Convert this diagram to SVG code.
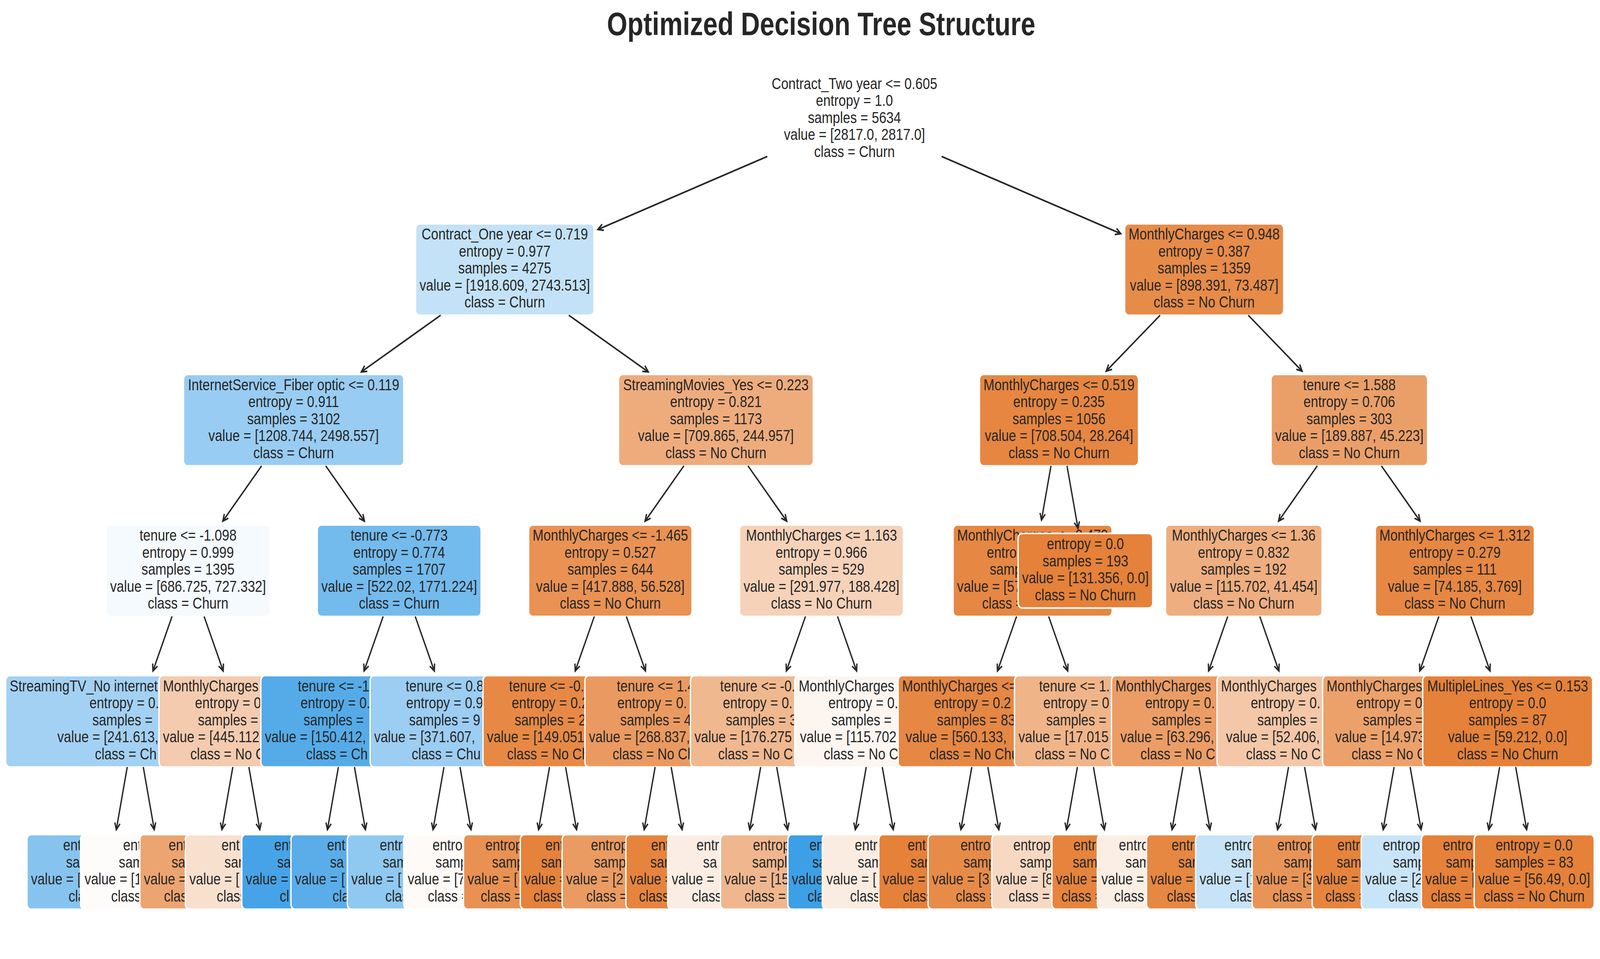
<svg xmlns="http://www.w3.org/2000/svg" width="5033" height="2455" viewBox="0 0 5033 2455" preserveAspectRatio="none" style="width:100vw;height:100vh;display:block">
<defs>
<style>
text { font-family: "Liberation Sans", Arial, Helvetica, sans-serif; font-size: 41.3px; fill: #262626; }
.c { text-anchor: middle; }
.title { font-size: 82.5px; font-weight: bold; text-anchor: middle; }
rect { stroke: #ffffff; stroke-width: 4.2; }
.edges path { stroke: #262626; stroke-width: 4.2; fill: none; marker-end: url(#ah); }
</style>
<marker id="ah" markerUnits="userSpaceOnUse" viewBox="-22 -12 26 24" markerWidth="26" markerHeight="24" refX="0" refY="0" orient="auto" overflow="visible">
<path d="M -17,-8.3 L 0,0 L -17,8.3" fill="none" stroke="#262626" stroke-width="4.2"/>
</marker>
</defs>
<rect x="0" y="0" width="5033" height="2455" fill="#ffffff" stroke="none"/>
<text class="title" x="2583" y="90">Optimized Decision Tree Structure</text>

<!-- depth 5 -->
<g id="leaf-0"><rect x="84.9" y="2136.5" width="515.2" height="191" rx="12.5" fill="#86c3ef"/><text x="198.4" y="2177.2">ent</text><text x="207.6" y="2220.7">sa</text><text x="97.4" y="2264.2">value = [</text><text x="215.7" y="2307.7">cla</text></g>
<g id="leaf-1"><rect x="253.5" y="2136.5" width="510.2" height="191" rx="12.5" fill="#fefcfa"/><text x="387.5" y="2177.2">ent</text><text x="373.7" y="2220.7">sam</text><text x="266" y="2264.2">value = [1</text><text x="349.7" y="2307.7">class</text></g>
<g id="leaf-2"><rect x="439.9" y="2136.5" width="469.4" height="191" rx="12.5" fill="#eca470"/><text x="530.5" y="2177.2">ent</text><text x="539.7" y="2220.7">sa</text><text x="452.4" y="2264.2">value =</text><text x="515.7" y="2307.7">clas</text></g>
<g id="leaf-3"><rect x="583.1" y="2136.5" width="515.2" height="191" rx="12.5" fill="#f8e0cf"/><text x="696.6" y="2177.2">ent</text><text x="705.8" y="2220.7">sam</text><text x="595.6" y="2264.2">value = [</text><text x="681.8" y="2307.7">class</text></g>
<g id="leaf-4"><rect x="760.5" y="2136.5" width="492.4" height="191" rx="12.5" fill="#46a3e7"/><text x="862.6" y="2177.2">ent</text><text x="871.8" y="2220.7">sa</text><text x="773" y="2264.2">value =</text><text x="879.9" y="2307.7">cl</text></g>
<g id="leaf-5"><rect x="915.2" y="2136.5" width="515.2" height="191" rx="12.5" fill="#5aade9"/><text x="1028.7" y="2177.2">ent</text><text x="1037.9" y="2220.7">sa</text><text x="927.7" y="2264.2">value = [</text><text x="1046" y="2307.7">cla</text></g>
<g id="leaf-6"><rect x="1092.6" y="2136.5" width="492.4" height="191" rx="12.5" fill="#8fc8f0"/><text x="1194.7" y="2177.2">entr</text><text x="1203.9" y="2220.7">sam</text><text x="1105.1" y="2264.2">value = [</text><text x="1212" y="2307.7">clas</text></g>
<g id="leaf-7"><rect x="1270.1" y="2136.5" width="469.4" height="191" rx="12.5" fill="#fefaf7"/><text x="1360.7" y="2177.2">entro</text><text x="1369.9" y="2220.7">samp</text><text x="1282.6" y="2264.2">value = [7</text><text x="1345.9" y="2307.7">class =</text></g>
<g id="leaf-8"><rect x="1458" y="2136.5" width="425.8" height="191" rx="12.5" fill="#e89152"/><text x="1526.8" y="2177.2">entrop</text><text x="1547.5" y="2220.7">samp</text><text x="1470.5" y="2264.2">value = [</text><text x="1512" y="2307.7">class =</text></g>
<g id="leaf-9"><rect x="1636.7" y="2136.5" width="400.4" height="191" rx="12.5" fill="#e5823b"/><text x="1715.8" y="2177.2">ent</text><text x="1702" y="2220.7">sam</text><text x="1649.2" y="2264.2">value =</text><text x="1678" y="2307.7">class</text></g>
<g id="leaf-10"><rect x="1768.2" y="2136.5" width="469.4" height="191" rx="12.5" fill="#ea9b62"/><text x="1858.8" y="2177.2">entrop</text><text x="1868" y="2220.7">samp</text><text x="1780.7" y="2264.2">value = [2</text><text x="1844" y="2307.7">class =</text></g>
<g id="leaf-11"><rect x="1968.8" y="2136.5" width="400.4" height="191" rx="12.5" fill="#e6843e"/><text x="2047.9" y="2177.2">ent</text><text x="2045.6" y="2220.7">sam</text><text x="1981.3" y="2264.2">value =</text><text x="2010.1" y="2307.7">class</text></g>
<g id="leaf-12"><rect x="2100.3" y="2136.5" width="469.4" height="191" rx="12.5" fill="#fbede3"/><text x="2190.9" y="2177.2">entr</text><text x="2211.6" y="2220.7">sa</text><text x="2112.8" y="2264.2">value =</text><text x="2176.1" y="2307.7">class</text></g>
<g id="leaf-13"><rect x="2266.3" y="2136.5" width="469.4" height="191" rx="12.5" fill="#f0b78e"/><text x="2368.4" y="2177.2">entrop</text><text x="2366.1" y="2220.7">sampl</text><text x="2278.8" y="2264.2">value = [15</text><text x="2342.1" y="2307.7">class =</text></g>
<g id="leaf-14"><rect x="2478.3" y="2136.5" width="377.4" height="191" rx="12.5" fill="#3d9fe5"/><text x="2545.9" y="2177.2">en</text><text x="2555.1" y="2220.7">sa</text><text x="2490.8" y="2264.2">value</text><text x="2540.2" y="2307.7">cla</text></g>
<g id="leaf-15"><rect x="2586.8" y="2136.5" width="492.4" height="191" rx="12.5" fill="#fbece1"/><text x="2688.9" y="2177.2">entr</text><text x="2698.1" y="2220.7">sam</text><text x="2599.3" y="2264.2">value = [</text><text x="2674.1" y="2307.7">class</text></g>
<g id="leaf-16"><rect x="2764.3" y="2136.5" width="469.4" height="191" rx="12.5" fill="#e58139"/><text x="2854.9" y="2177.2">ent</text><text x="2864.1" y="2220.7">sam</text><text x="2776.8" y="2264.2">value =</text><text x="2840.1" y="2307.7">class</text></g>
<g id="leaf-17"><rect x="2919.3" y="2136.5" width="492.4" height="191" rx="12.5" fill="#e78b48"/><text x="3021.4" y="2177.2">entro</text><text x="3030.6" y="2220.7">samp</text><text x="2931.8" y="2264.2">value = [3</text><text x="3006.6" y="2307.7">class =</text></g>
<g id="leaf-18"><rect x="3119.8" y="2136.5" width="423.4" height="191" rx="12.5" fill="#f7d9c3"/><text x="3187.4" y="2177.2">entrop</text><text x="3208.1" y="2220.7">samp</text><text x="3132.3" y="2264.2">value = [8</text><text x="3172.6" y="2307.7">class =</text></g>
<g id="leaf-19"><rect x="3308.8" y="2136.5" width="377.4" height="191" rx="12.5" fill="#e6843d"/><text x="3376.4" y="2177.2">entr</text><text x="3374.1" y="2220.7">sam</text><text x="3321.3" y="2264.2">value =</text><text x="3338.6" y="2307.7">class =</text></g>
<g id="leaf-20"><rect x="3451.9" y="2136.5" width="423.4" height="191" rx="12.5" fill="#fbeee4"/><text x="3519.5" y="2177.2">entro</text><text x="3540.2" y="2220.7">sam</text><text x="3464.4" y="2264.2">value =</text><text x="3504.7" y="2307.7">class</text></g>
<g id="leaf-21"><rect x="3606.5" y="2136.5" width="446.2" height="191" rx="12.5" fill="#e68742"/><text x="3685.5" y="2177.2">entr</text><text x="3706.2" y="2220.7">sam</text><text x="3619" y="2264.2">value =</text><text x="3670.7" y="2307.7">class</text></g>
<g id="leaf-22"><rect x="3761" y="2136.5" width="469.4" height="191" rx="12.5" fill="#c6e3f7"/><text x="3851.6" y="2177.2">entro</text><text x="3872.3" y="2220.7">sam</text><text x="3773.5" y="2264.2">value = [1</text><text x="3868.9" y="2307.7">clas</text></g>
<g id="leaf-23"><rect x="3938.6" y="2136.5" width="446.2" height="191" rx="12.5" fill="#e99457"/><text x="4017.6" y="2177.2">entrop</text><text x="4038.3" y="2220.7">samp</text><text x="3951.1" y="2264.2">value = [3</text><text x="4002.8" y="2307.7">class =</text></g>
<g id="leaf-24"><rect x="4127.6" y="2136.5" width="400.4" height="191" rx="12.5" fill="#e6843e"/><text x="4206.7" y="2177.2">entr</text><text x="4204.4" y="2220.7">sam</text><text x="4140.1" y="2264.2">value =</text><text x="4168.9" y="2307.7">class =</text></g>
<g id="leaf-25"><rect x="4282.1" y="2136.5" width="423.4" height="191" rx="12.5" fill="#c8e4f8"/><text x="4349.7" y="2177.2">entrop</text><text x="4381.9" y="2220.7">samp</text><text x="4294.6" y="2264.2">value = [2</text><text x="4367" y="2307.7">class</text></g>
<g id="leaf-26"><rect x="4471.1" y="2136.5" width="377.4" height="191" rx="12.5" fill="#e58139"/><text x="4538.7" y="2177.2">entro</text><text x="4547.9" y="2220.7">samp</text><text x="4483.6" y="2264.2">value = [</text><text x="4500.9" y="2307.7">class =</text></g>
<g id="leaf-27"><rect x="4637.2" y="2136.5" width="377.5" height="191" rx="12.5" fill="#e58139"/><text class="c" x="4825.9" y="2177.2">entropy = 0.0</text><text class="c" x="4825.9" y="2220.7">samples = 83</text><text class="c" x="4825.9" y="2264.2">value = [56.49, 0.0]</text><text class="c" x="4825.9" y="2307.7">class = No Churn</text></g>

<!-- depth 4 -->
<g id="d4-0"><rect x="18" y="1729.5" width="815" height="234" rx="12.5" fill="#a3d1f3"/><text x="30.5" y="1769.95">StreamingTV_No internet</text><text x="281.4" y="1813.45">entropy = 0.</text><text x="290.6" y="1856.95">samples =</text><text x="180.4" y="1900.45">value = [241.613,</text><text x="298.7" y="1943.95">class = Ch</text></g>
<g id="d4-1"><rect x="500.1" y="1729.5" width="515" height="234" rx="12.5" fill="#f4cbae"/><text x="512.6" y="1769.95">MonthlyCharges</text><text x="613.5" y="1813.45">entropy = 0</text><text x="622.7" y="1856.95">samples =</text><text x="512.5" y="1900.45">value = [445.112</text><text x="598.7" y="1943.95">class = No C</text></g>
<g id="d4-2"><rect x="820.6" y="1729.5" width="538.2" height="234" rx="12.5" fill="#55abe8"/><text x="937" y="1769.95">tenure &lt;= -1</text><text x="945.6" y="1813.45">entropy = 0.</text><text x="954.8" y="1856.95">samples =</text><text x="833.1" y="1900.45">value = [150.412,</text><text x="962.9" y="1943.95">class = Ch</text></g>
<g id="d4-3"><rect x="1164.2" y="1729.5" width="515.2" height="234" rx="12.5" fill="#9ccdf2"/><text x="1276" y="1769.95">tenure &lt;= 0.8</text><text x="1277.7" y="1813.45">entropy = 0.9</text><text x="1286.9" y="1856.95">samples = 9</text><text x="1176.7" y="1900.45">value = [371.607,</text><text x="1295" y="1943.95">class = Chu</text></g>
<g id="d4-4"><rect x="1519.3" y="1729.5" width="469.2" height="234" rx="12.5" fill="#e78945"/><text x="1601.2" y="1769.95">tenure &lt;= -0.</text><text x="1609.8" y="1813.45">entropy = 0.2</text><text x="1619" y="1856.95">samples = 2</text><text x="1531.8" y="1900.45">value = [149.051</text><text x="1595" y="1943.95">class = No Ch</text></g>
<g id="d4-5"><rect x="1839.9" y="1729.5" width="492.2" height="234" rx="12.5" fill="#ea9a60"/><text x="1940.2" y="1769.95">tenure &lt;= 1.4</text><text x="1941.9" y="1813.45">entropy = 0.</text><text x="1951.1" y="1856.95">samples = 4</text><text x="1852.4" y="1900.45">value = [268.837,</text><text x="1927.1" y="1943.95">class = No Ch</text></g>
<g id="d4-6"><rect x="2171.9" y="1729.5" width="492.2" height="234" rx="12.5" fill="#f0b88f"/><text x="2265.3" y="1769.95">tenure &lt;= -0.</text><text x="2273.9" y="1813.45">entropy = 0.</text><text x="2283.1" y="1856.95">samples = 3</text><text x="2184.4" y="1900.45">value = [176.275</text><text x="2259.1" y="1943.95">class = No C</text></g>
<g id="d4-7"><rect x="2500" y="1729.5" width="500.2" height="234" rx="12.5" fill="#fdf5f0"/><text x="2512.5" y="1769.95">MonthlyCharges</text><text x="2606" y="1813.45">entropy = 0.</text><text x="2615.2" y="1856.95">samples =</text><text x="2516.5" y="1900.45">value = [115.702</text><text x="2591.2" y="1943.95">class = No C</text></g>
<g id="d4-8"><rect x="2825.2" y="1729.5" width="514" height="234" rx="12.5" fill="#e68743"/><text x="2837.7" y="1769.95">MonthlyCharges &lt;=</text><text x="2938.1" y="1813.45">entropy = 0.2</text><text x="2947.3" y="1856.95">samples = 83</text><text x="2848.6" y="1900.45">value = [560.133,</text><text x="2923.3" y="1943.95">class = No Chu</text></g>
<g id="d4-9"><rect x="3191.2" y="1729.5" width="446.2" height="234" rx="12.5" fill="#f0b489"/><text x="3268.5" y="1769.95">tenure &lt;= 1.</text><text x="3281.7" y="1813.45">entropy = 0</text><text x="3290.9" y="1856.95">samples =</text><text x="3203.7" y="1900.45">value = [17.015</text><text x="3255.4" y="1943.95">class = No C</text></g>
<g id="d4-10"><rect x="3496.3" y="1729.5" width="500.2" height="234" rx="12.5" fill="#eb9d65"/><text x="3508.8" y="1769.95">MonthlyCharges</text><text x="3602.3" y="1813.45">entropy = 0.</text><text x="3623" y="1856.95">samples =</text><text x="3524.3" y="1900.45">value = [63.296,</text><text x="3587.5" y="1943.95">class = No C</text></g>
<g id="d4-11"><rect x="3828.4" y="1729.5" width="500.2" height="234" rx="12.5" fill="#f3c7a7"/><text x="3840.9" y="1769.95">MonthlyCharges</text><text x="3934.4" y="1813.45">entropy = 0.</text><text x="3955.1" y="1856.95">samples =</text><text x="3856.4" y="1900.45">value = [52.406,</text><text x="3919.6" y="1943.95">class = No C</text></g>
<g id="d4-12"><rect x="4160.4" y="1729.5" width="500.2" height="234" rx="12.5" fill="#eca16b"/><text x="4172.9" y="1769.95">MonthlyCharges</text><text x="4266.4" y="1813.45">entropy = 0</text><text x="4287.1" y="1856.95">samples =</text><text x="4199.9" y="1900.45">value = [14.973</text><text x="4251.6" y="1943.95">class = No C</text></g>
<g id="d4-13"><rect x="4475.3" y="1729.5" width="534.6" height="234" rx="12.5" fill="#e58139"/><text class="c" x="4742.6" y="1769.95">MultipleLines_Yes &lt;= 0.153</text><text class="c" x="4742.6" y="1813.45">entropy = 0.0</text><text class="c" x="4742.6" y="1856.95">samples = 87</text><text class="c" x="4742.6" y="1900.45">value = [59.212, 0.0]</text><text class="c" x="4742.6" y="1943.95">class = No Churn</text></g>

<!-- depth 3 -->
<g id="d3-0"><rect x="334" y="1344" width="515.2" height="234" rx="12.5" fill="#f4fafe"/><text class="c" x="591.6" y="1384.45">tenure &lt;= -1.098</text><text class="c" x="591.6" y="1427.95">entropy = 0.999</text><text class="c" x="591.6" y="1471.45">samples = 1395</text><text class="c" x="591.6" y="1514.95">value = [686.725, 727.332]</text><text class="c" x="591.6" y="1558.45">class = Churn</text></g>
<g id="d3-1"><rect x="998.1" y="1344" width="515.2" height="234" rx="12.5" fill="#73baed"/><text class="c" x="1255.7" y="1384.45">tenure &lt;= -0.773</text><text class="c" x="1255.7" y="1427.95">entropy = 0.774</text><text class="c" x="1255.7" y="1471.45">samples = 1707</text><text class="c" x="1255.7" y="1514.95">value = [522.02, 1771.224]</text><text class="c" x="1255.7" y="1558.45">class = Churn</text></g>
<g id="d3-2"><rect x="1662.9" y="1344" width="514" height="234" rx="12.5" fill="#e99254"/><text class="c" x="1919.9" y="1384.45">MonthlyCharges &lt;= -1.465</text><text class="c" x="1919.9" y="1427.95">entropy = 0.527</text><text class="c" x="1919.9" y="1471.45">samples = 644</text><text class="c" x="1919.9" y="1514.95">value = [417.888, 56.528]</text><text class="c" x="1919.9" y="1558.45">class = No Churn</text></g>
<g id="d3-3"><rect x="2326.5" y="1344" width="515.2" height="234" rx="12.5" fill="#f6d2b9"/><text class="c" x="2584.1" y="1384.45">MonthlyCharges &lt;= 1.163</text><text class="c" x="2584.1" y="1427.95">entropy = 0.966</text><text class="c" x="2584.1" y="1471.45">samples = 529</text><text class="c" x="2584.1" y="1514.95">value = [291.977, 188.428]</text><text class="c" x="2584.1" y="1558.45">class = No Churn</text></g>
<g id="d3-4"><rect x="2998.1" y="1344" width="500.2" height="234" rx="12.5" fill="#e68743"/><text class="c" x="3248.2" y="1384.45">MonthlyCharges &lt;= 0.479</text><text x="3104.1" y="1427.95">entro</text><text x="3113.3" y="1471.45">samp</text><text x="3010.6" y="1514.95">value = [57</text><text x="3089.3" y="1558.45">class =</text></g>
<g id="d3-5"><rect x="3202.6" y="1365.5" width="423.4" height="191" rx="12.5" fill="#e58139"/><text class="c" x="3414.3" y="1406.2">entropy = 0.0</text><text class="c" x="3414.3" y="1449.7">samples = 193</text><text class="c" x="3414.3" y="1493.2">value = [131.356, 0.0]</text><text class="c" x="3414.3" y="1536.7">class = No Churn</text></g>
<g id="d3-6"><rect x="3666.3" y="1344" width="492.3" height="234" rx="12.5" fill="#eeae80"/><text class="c" x="3912.4" y="1384.45">MonthlyCharges &lt;= 1.36</text><text class="c" x="3912.4" y="1427.95">entropy = 0.832</text><text class="c" x="3912.4" y="1471.45">samples = 192</text><text class="c" x="3912.4" y="1514.95">value = [115.702, 41.454]</text><text class="c" x="3912.4" y="1558.45">class = No Churn</text></g>
<g id="d3-7"><rect x="4326.4" y="1344" width="500.2" height="234" rx="12.5" fill="#e68743"/><text class="c" x="4576.5" y="1384.45">MonthlyCharges &lt;= 1.312</text><text class="c" x="4576.5" y="1427.95">entropy = 0.279</text><text class="c" x="4576.5" y="1471.45">samples = 111</text><text class="c" x="4576.5" y="1514.95">value = [74.185, 3.769]</text><text class="c" x="4576.5" y="1558.45">class = No Churn</text></g>

<!-- depth 2 -->
<g id="d2-0"><rect x="577.2" y="958.5" width="693" height="234" rx="12.5" fill="#99ccf2"/><text class="c" x="923.7" y="998.95">InternetService_Fiber optic &lt;= 0.119</text><text class="c" x="923.7" y="1042.45">entropy = 0.911</text><text class="c" x="923.7" y="1085.95">samples = 3102</text><text class="c" x="923.7" y="1129.45">value = [1208.744, 2498.557]</text><text class="c" x="923.7" y="1172.95">class = Churn</text></g>
<g id="d2-1"><rect x="1945.7" y="958.5" width="612.7" height="234" rx="12.5" fill="#eeac7d"/><text class="c" x="2252" y="998.95">StreamingMovies_Yes &lt;= 0.223</text><text class="c" x="2252" y="1042.45">entropy = 0.821</text><text class="c" x="2252" y="1085.95">samples = 1173</text><text class="c" x="2252" y="1129.45">value = [709.865, 244.957]</text><text class="c" x="2252" y="1172.95">class = No Churn</text></g>
<g id="d2-2"><rect x="3081.1" y="958.5" width="500.2" height="234" rx="12.5" fill="#e68641"/><text class="c" x="3331.2" y="998.95">MonthlyCharges &lt;= 0.519</text><text class="c" x="3331.2" y="1042.45">entropy = 0.235</text><text class="c" x="3331.2" y="1085.95">samples = 1056</text><text class="c" x="3331.2" y="1129.45">value = [708.504, 28.264]</text><text class="c" x="3331.2" y="1172.95">class = No Churn</text></g>
<g id="d2-3"><rect x="3998.4" y="958.5" width="492.3" height="234" rx="12.5" fill="#eb9f68"/><text class="c" x="4244.5" y="998.95">tenure &lt;= 1.588</text><text class="c" x="4244.5" y="1042.45">entropy = 0.706</text><text class="c" x="4244.5" y="1085.95">samples = 303</text><text class="c" x="4244.5" y="1129.45">value = [189.887, 45.223]</text><text class="c" x="4244.5" y="1172.95">class = No Churn</text></g>

<!-- depth 1 -->
<g id="d1-0"><rect x="1307.2" y="573" width="561.2" height="234" rx="12.5" fill="#c3e2f7"/><text class="c" x="1587.8" y="613.45">Contract_One year &lt;= 0.719</text><text class="c" x="1587.8" y="656.95">entropy = 0.977</text><text class="c" x="1587.8" y="700.45">samples = 4275</text><text class="c" x="1587.8" y="743.95">value = [1918.609, 2743.513]</text><text class="c" x="1587.8" y="787.45">class = Churn</text></g>
<g id="d1-1"><rect x="3537.8" y="573" width="500.2" height="234" rx="12.5" fill="#e78b49"/><text class="c" x="3787.9" y="613.45">MonthlyCharges &lt;= 0.948</text><text class="c" x="3787.9" y="656.95">entropy = 0.387</text><text class="c" x="3787.9" y="700.45">samples = 1359</text><text class="c" x="3787.9" y="743.95">value = [898.391, 73.487]</text><text class="c" x="3787.9" y="787.45">class = No Churn</text></g>

<!-- root -->
<g id="root"><rect x="2413.6" y="187.5" width="548.4" height="234" rx="12.5" fill="#ffffff"/><text class="c" x="2687.8" y="227.95">Contract_Two year &lt;= 0.605</text><text class="c" x="2687.8" y="271.45">entropy = 1.0</text><text class="c" x="2687.8" y="314.95">samples = 5634</text><text class="c" x="2687.8" y="358.45">value = [2817.0, 2817.0]</text><text class="c" x="2687.8" y="401.95">class = Churn</text></g>

<g id="connectors" class="edges">
<path d="M2413.6,400.6 L1880.7,587.4"/>
<path d="M2962,400.6 L3525.5,598.1"/>
<path d="M1386.2,807 L1136.5,952"/>
<path d="M1789.4,807 L2039.2,952"/>
<path d="M3649.3,807 L3479.7,950.1"/>
<path d="M3926.5,807 L4096,950.1"/>
<path d="M822.9,1192.5 L700.9,1334.1"/>
<path d="M1024.5,1192.5 L1146.4,1334.1"/>
<path d="M2151.2,1192.5 L2029.2,1334.1"/>
<path d="M2352.8,1192.5 L2474.8,1334.1"/>
<path d="M3306,1192.5 L3276.1,1331.3"/>
<path d="M3356.4,1192.5 L3391,1352.8"/>
<path d="M4143.7,1192.5 L4021.7,1334.1"/>
<path d="M4345.3,1192.5 L4467.2,1334.1"/>
<path d="M541.2,1578 L481.1,1717.6"/>
<path d="M642,1578 L702.1,1717.6"/>
<path d="M1205.3,1578 L1145.2,1717.6"/>
<path d="M1306.1,1578 L1366.2,1717.6"/>
<path d="M1869.5,1578 L1809.4,1717.6"/>
<path d="M1970.3,1578 L2030.4,1717.6"/>
<path d="M2533.7,1578 L2473.6,1717.6"/>
<path d="M2634.5,1578 L2694.6,1717.6"/>
<path d="M3197.8,1578 L3137.7,1717.6"/>
<path d="M3298.6,1578 L3358.7,1717.6"/>
<path d="M3862,1578 L3801.9,1717.6"/>
<path d="M3962.8,1578 L4022.9,1717.6"/>
<path d="M4526.1,1578 L4466,1717.6"/>
<path d="M4626.9,1578 L4687,1717.6"/>
<path d="M400.3,1963.5 L365.8,2123.8"/>
<path d="M450.7,1963.5 L485.2,2123.8"/>
<path d="M732.4,1963.5 L697.9,2123.8"/>
<path d="M782.8,1963.5 L817.3,2123.8"/>
<path d="M1064.5,1963.5 L1030,2123.8"/>
<path d="M1114.9,1963.5 L1149.4,2123.8"/>
<path d="M1396.6,1963.5 L1362.1,2123.8"/>
<path d="M1447,1963.5 L1481.5,2123.8"/>
<path d="M1728.7,1963.5 L1694.2,2123.8"/>
<path d="M1779.1,1963.5 L1813.6,2123.8"/>
<path d="M2060.8,1963.5 L2026.3,2123.8"/>
<path d="M2111.2,1963.5 L2145.7,2123.8"/>
<path d="M2392.8,1963.5 L2358.3,2123.8"/>
<path d="M2443.2,1963.5 L2477.7,2123.8"/>
<path d="M2724.9,1963.5 L2690.4,2123.8"/>
<path d="M2775.3,1963.5 L2809.8,2123.8"/>
<path d="M3057,1963.5 L3022.5,2123.8"/>
<path d="M3107.4,1963.5 L3141.9,2123.8"/>
<path d="M3389.1,1963.5 L3354.6,2123.8"/>
<path d="M3439.5,1963.5 L3474,2123.8"/>
<path d="M3721.2,1963.5 L3686.7,2123.8"/>
<path d="M3771.6,1963.5 L3806.1,2123.8"/>
<path d="M4053.3,1963.5 L4018.8,2123.8"/>
<path d="M4103.7,1963.5 L4138.2,2123.8"/>
<path d="M4385.3,1963.5 L4350.8,2123.8"/>
<path d="M4435.7,1963.5 L4470.2,2123.8"/>
<path d="M4717.4,1963.5 L4682.9,2123.8"/>
<path d="M4767.8,1963.5 L4802.3,2123.8"/>
</g>
</svg>
